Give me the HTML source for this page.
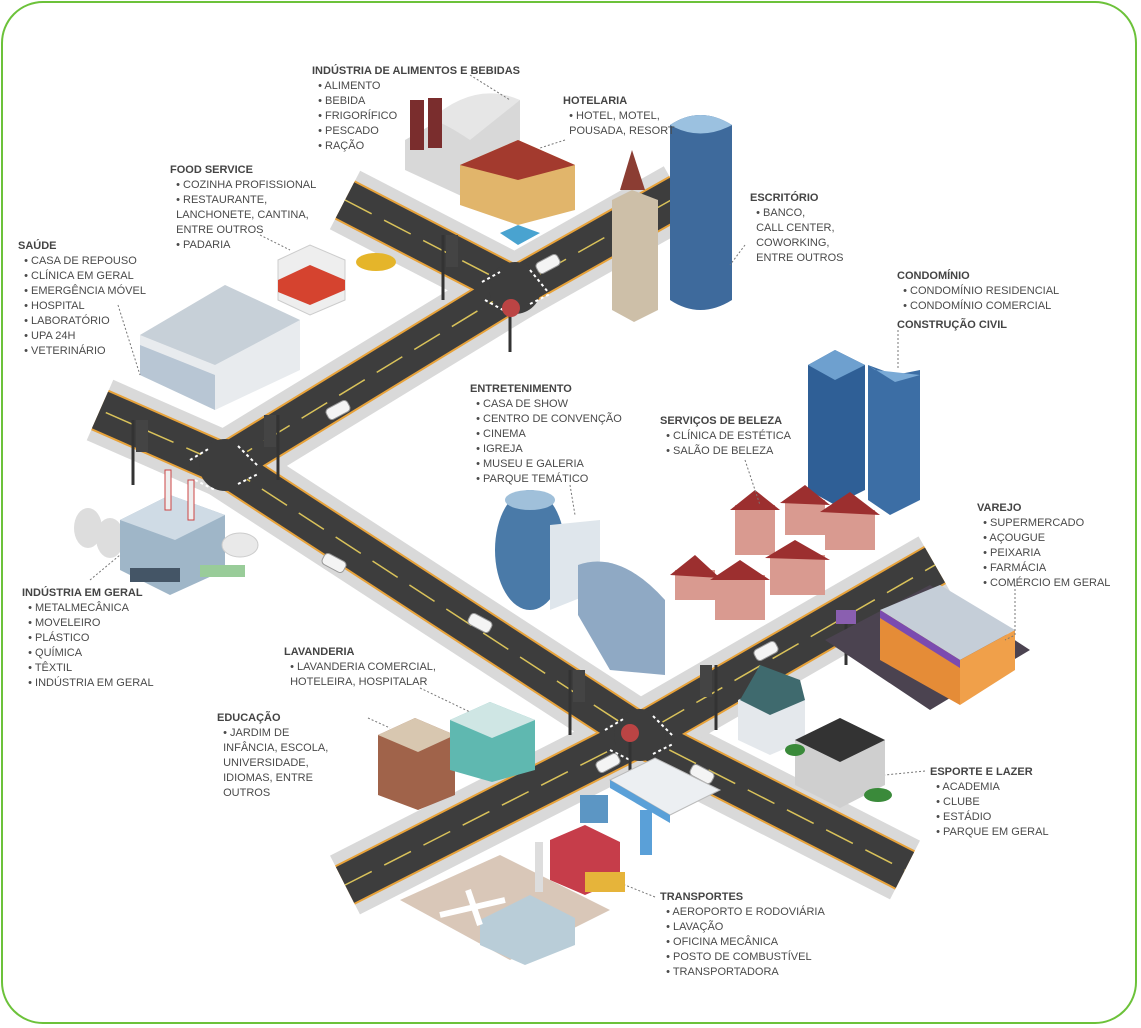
<!DOCTYPE html>
<html><head><meta charset="utf-8"><style>
body{margin:0;width:1141px;height:1028px;background:#fff;overflow:hidden;position:relative;font-family:"Liberation Sans",sans-serif}
.frame{position:absolute;left:1px;top:1px;width:1136px;height:1023px;border:2px solid #6cc23a;border-radius:42px;box-sizing:border-box}
svg{position:absolute;left:0;top:0}
.l{position:absolute;font-size:11px;line-height:15px;color:#4a4a4a;white-space:nowrap;letter-spacing:0}
.l b{color:#444;font-weight:bold}
</style></head><body>
<div class="frame"></div>
<svg width="1141" height="1028" viewBox="0 0 1141 1028">
<g fill="none" stroke-linecap="butt">
 <g stroke="#d9d9d9" stroke-width="66">
  <polyline points="345,200 515,288 680,195"/>
  <polyline points="515,288 225,465 100,410"/>
  <polyline points="225,465 640,735 905,870"/>
  <polyline points="345,885 640,735 935,565"/>
 </g>
 <g stroke="#e7a23a" stroke-width="44">
  <polyline points="345,200 515,288 680,195"/>
  <polyline points="515,288 225,465 100,410"/>
  <polyline points="225,465 640,735 905,870"/>
  <polyline points="345,885 640,735 935,565"/>
 </g>
 <g stroke="#3d3d3d" stroke-width="40">
  <polyline points="345,200 515,288 680,195"/>
  <polyline points="515,288 225,465 100,410"/>
  <polyline points="225,465 640,735 905,870"/>
  <polyline points="345,885 640,735 935,565"/>
 </g>
 <g stroke="#d9c25a" stroke-width="1.5" stroke-dasharray="30 14">
  <polyline points="345,200 515,288 680,195"/>
  <polyline points="515,288 225,465 100,410"/>
  <polyline points="225,465 640,735 905,870"/>
  <polyline points="345,885 640,735 935,565"/>
 </g>
</g>
<g fill="#3d3d3d"><circle cx="515" cy="288" r="26"/><circle cx="225" cy="465" r="26"/><circle cx="640" cy="735" r="26"/></g>
<g stroke="#fff" stroke-width="2" stroke-dasharray="3 3">
 <line x1="482" y1="282" x2="500" y2="272"/><line x1="530" y1="270" x2="548" y2="292"/><line x1="485" y1="300" x2="503" y2="310"/><line x1="530" y1="304" x2="550" y2="294"/>
 <line x1="190" y1="460" x2="210" y2="448"/><line x1="238" y1="446" x2="258" y2="466"/><line x1="195" y1="480" x2="215" y2="490"/><line x1="238" y1="484" x2="258" y2="474"/>
 <line x1="605" y1="730" x2="625" y2="718"/><line x1="653" y1="716" x2="673" y2="736"/><line x1="610" y1="750" x2="630" y2="760"/><line x1="653" y1="754" x2="673" y2="744"/>
</g>
<g stroke="#333" stroke-width="3">
 <line x1="443" y1="235" x2="443" y2="300"/><line x1="133" y1="420" x2="133" y2="485"/><line x1="278" y1="415" x2="278" y2="480"/><line x1="570" y1="670" x2="570" y2="735"/><line x1="716" y1="665" x2="716" y2="730"/><line x1="510" y1="300" x2="510" y2="352"/><line x1="630" y1="735" x2="630" y2="775"/><line x1="846" y1="615" x2="846" y2="665"/>
</g>
<g fill="#444"><rect x="446" y="235" width="12" height="32"/><rect x="136" y="420" width="12" height="32"/><rect x="264" y="415" width="12" height="32"/><rect x="573" y="670" width="12" height="32"/><rect x="700" y="665" width="12" height="32"/></g>
<g fill="#b44"><circle cx="511" cy="308" r="9"/><circle cx="630" cy="733" r="9"/></g>
<rect x="836" y="610" width="20" height="14" fill="#8a5fb0"/>
<g fill="#f4f4f4" stroke="#999" stroke-width="1"><rect x="536" y="258" width="24" height="12" rx="4" transform="rotate(-28 548 264)"/><rect x="326" y="404" width="24" height="12" rx="4" transform="rotate(-28 338 410)"/><rect x="322" y="557" width="24" height="12" rx="4" transform="rotate(28 334 563)"/><rect x="468" y="617" width="24" height="12" rx="4" transform="rotate(28 480 623)"/><rect x="596" y="757" width="24" height="12" rx="4" transform="rotate(-28 608 763)"/><rect x="690" y="768" width="24" height="12" rx="4" transform="rotate(28 702 774)"/><rect x="754" y="645" width="24" height="12" rx="4" transform="rotate(-28 766 651)"/></g>

<polygon points="405,140 440,120 520,100 520,170 470,200 405,170" fill="#d8d8d8"/>
<path d="M430,120 Q475,80 520,100 L470,140 Q440,120 430,120Z" fill="#e6e6e6"/>
<rect x="410" y="100" width="14" height="50" fill="#7a2d2d"/><rect x="428" y="98" width="14" height="50" fill="#7a2d2d"/>
<polygon points="460,165 518,140 575,165 575,210 518,225 460,205" fill="#e1b56b"/>
<polygon points="460,165 518,140 575,165 518,180" fill="#a33a2e"/>
<polygon points="500,233 518,225 540,233 518,245" fill="#49a3d0"/>
<polygon points="612,200 632,190 658,200 658,310 634,322 612,310" fill="#cdbfa8"/>
<polygon points="620,190 632,150 645,190" fill="#8b3d33"/>
<path d="M670,125 Q700,105 732,125 L732,300 Q700,320 670,300Z" fill="#3e6a9c"/>
<path d="M670,125 Q700,105 732,125 Q700,142 670,125Z" fill="#9bc1e0"/>
<polygon points="278,260 310,245 345,260 345,300 310,315 278,300" fill="#eee" stroke="#ccc"/>
<polygon points="278,280 310,265 345,280 345,290 310,305 278,292" fill="#d5432f"/>
<ellipse cx="376" cy="262" rx="20" ry="9" fill="#e5b52a"/>
<polygon points="140,335 225,285 300,320 300,370 215,410 140,375" fill="#e8ebee"/>
<polygon points="140,335 225,285 300,320 215,365" fill="#c7d0d8"/>
<polygon points="140,345 215,375 215,410 140,375" fill="#b8c6d4"/>
<ellipse cx="88" cy="528" rx="14" ry="20" fill="#ddd"/><ellipse cx="110" cy="538" rx="14" ry="20" fill="#ddd"/>
<polygon points="120,520 170,495 225,515 225,570 170,595 120,570" fill="#9fb6c8"/>
<polygon points="120,520 170,495 225,515 175,540" fill="#cfdbe5"/>
<rect x="165" y="470" width="6" height="40" fill="#eee" stroke="#c44"/><rect x="188" y="480" width="6" height="40" fill="#eee" stroke="#c44"/>
<ellipse cx="240" cy="545" rx="18" ry="12" fill="#e9e9e9" stroke="#ccc"/>
<rect x="130" y="568" width="50" height="14" fill="#445566"/><rect x="200" y="565" width="45" height="12" fill="#9c9"/>
<polygon points="808,365 835,350 865,365 865,490 835,505 808,490" fill="#2f5f96"/>
<polygon points="808,365 835,350 865,365 835,380" fill="#6ea0cf"/>
<polygon points="868,365 895,375 920,370 920,500 890,515 868,500" fill="#3c6ea5"/>
<polygon points="868,365 875,370 920,375 895,382" fill="#7aaad6"/>
<g fill="#d99a90"><rect x="735" y="505" width="40" height="50"/><rect x="785" y="500" width="40" height="35"/><rect x="825" y="510" width="50" height="40"/><rect x="675" y="570" width="40" height="30"/><rect x="715" y="575" width="50" height="45"/><rect x="770" y="555" width="55" height="40"/></g>
<g fill="#9c2f2f"><polygon points="730,510 755,490 780,510"/><polygon points="780,503 805,485 830,505"/><polygon points="820,512 850,492 880,515"/><polygon points="670,575 695,555 720,578"/><polygon points="710,580 740,560 770,580"/><polygon points="765,558 795,540 830,560"/></g>
<ellipse cx="530" cy="550" rx="35" ry="60" fill="#4a7aa8"/>
<ellipse cx="530" cy="500" rx="25" ry="10" fill="#a0c0da"/>
<polygon points="550,525 600,520 600,590 550,610" fill="#dfe6ec"/>
<path d="M578,565 Q620,550 665,600 L665,675 L610,670 L578,615Z" fill="#8fa9c4"/>
<polygon points="825,640 930,585 1030,650 930,710" fill="#4b4350"/>
<polygon points="880,610 940,585 1015,630 960,660" fill="#c5ced8"/>
<polygon points="880,610 960,660 960,705 880,660" fill="#e58c37"/>
<polygon points="960,660 1015,630 1015,670 960,705" fill="#f0a04a"/>
<polygon points="880,610 960,660 960,668 880,618" fill="#7b4bb0"/>
<polygon points="738,700 770,685 805,700 805,740 770,755 738,740" fill="#e4e8ec"/>
<polygon points="740,700 760,665 800,680 805,700 770,715" fill="#3f6a6e"/>
<polygon points="795,740 840,718 885,740 885,785 840,808 795,785" fill="#cfcfcf"/>
<polygon points="795,740 840,718 885,740 840,762" fill="#333"/>
<ellipse cx="878" cy="795" rx="14" ry="7" fill="#3a8a3a"/><ellipse cx="795" cy="750" rx="10" ry="6" fill="#3a8a3a"/>
<polygon points="378,735 415,718 455,735 455,795 418,810 378,795" fill="#a0634a"/>
<polygon points="378,735 415,718 455,735 418,752" fill="#d8c7b0"/>
<polygon points="450,720 490,702 535,720 535,770 492,782 450,770" fill="#5fb8b0"/>
<polygon points="450,720 490,702 535,720 492,738" fill="#cfe6e4"/>
<polygon points="610,780 655,758 720,790 670,815" fill="#eceff2" stroke="#bbb"/>
<polygon points="610,780 670,815 670,823 610,788" fill="#5aa0d8"/>
<rect x="640" y="810" width="12" height="45" fill="#5aa0d8"/><rect x="580" y="795" width="28" height="28" fill="#5c96c4"/>
<polygon points="550,840 585,825 620,842 620,880 585,895 550,880" fill="#c63d4a"/>
<rect x="585" y="872" width="40" height="20" fill="#e6b43a"/>
<polygon points="400,900 500,855 610,910 510,960" fill="#d9c7b8"/>
<polygon points="480,920 530,895 575,918 575,945 525,965 480,945" fill="#b9cdd8"/>
<path d="M440,915 L505,900 M468,890 L480,925" stroke="#fff" stroke-width="6"/>
<rect x="535" y="842" width="8" height="50" fill="#ddd"/>
<g stroke="#777" stroke-width="1" stroke-dasharray="2 2" fill="none">
 <path d="M470,75 L510,100"/><path d="M565,140 L540,148"/><path d="M260,235 L290,250"/><path d="M118,305 L140,375"/><path d="M745,245 L730,265"/><path d="M898,330 L898,370"/><path d="M570,485 L575,515"/><path d="M745,460 L760,505"/><path d="M1015,585 L1015,635 L1005,640"/><path d="M90,580 L120,555"/><path d="M420,688 L470,712"/><path d="M368,718 L390,728"/><path d="M925,771 L885,775"/><path d="M655,897 L625,885"/>
</g>
</svg>

<div class="l" style="left:312px;top:64px"><b>INDÚSTRIA DE ALIMENTOS E BEBIDAS</b><br>&nbsp;&nbsp;• ALIMENTO<br>&nbsp;&nbsp;• BEBIDA<br>&nbsp;&nbsp;• FRIGORÍFICO<br>&nbsp;&nbsp;• PESCADO<br>&nbsp;&nbsp;• RAÇÃO</div>
<div class="l" style="left:563px;top:94px"><b>HOTELARIA</b><br>&nbsp;&nbsp;• HOTEL, MOTEL,<br>&nbsp;&nbsp;POUSADA, RESORT</div>
<div class="l" style="left:170px;top:163px"><b>FOOD SERVICE</b><br>&nbsp;&nbsp;• COZINHA PROFISSIONAL<br>&nbsp;&nbsp;• RESTAURANTE,<br>&nbsp;&nbsp;LANCHONETE, CANTINA,<br>&nbsp;&nbsp;ENTRE OUTROS<br>&nbsp;&nbsp;• PADARIA</div>
<div class="l" style="left:18px;top:239px"><b>SAÚDE</b><br>&nbsp;&nbsp;• CASA DE REPOUSO<br>&nbsp;&nbsp;• CLÍNICA EM GERAL<br>&nbsp;&nbsp;• EMERGÊNCIA MÓVEL<br>&nbsp;&nbsp;• HOSPITAL<br>&nbsp;&nbsp;• LABORATÓRIO<br>&nbsp;&nbsp;• UPA 24H<br>&nbsp;&nbsp;• VETERINÁRIO</div>
<div class="l" style="left:750px;top:191px"><b>ESCRITÓRIO</b><br>&nbsp;&nbsp;• BANCO,<br>&nbsp;&nbsp;CALL CENTER,<br>&nbsp;&nbsp;COWORKING,<br>&nbsp;&nbsp;ENTRE OUTROS</div>
<div class="l" style="left:897px;top:269px"><b>CONDOMÍNIO</b><br>&nbsp;&nbsp;• CONDOMÍNIO RESIDENCIAL<br>&nbsp;&nbsp;• CONDOMÍNIO COMERCIAL</div>
<div class="l" style="left:897px;top:318px"><b>CONSTRUÇÃO CIVIL</b></div>
<div class="l" style="left:470px;top:382px"><b>ENTRETENIMENTO</b><br>&nbsp;&nbsp;• CASA DE SHOW<br>&nbsp;&nbsp;• CENTRO DE CONVENÇÃO<br>&nbsp;&nbsp;• CINEMA<br>&nbsp;&nbsp;• IGREJA<br>&nbsp;&nbsp;• MUSEU E GALERIA<br>&nbsp;&nbsp;• PARQUE TEMÁTICO</div>
<div class="l" style="left:660px;top:414px"><b>SERVIÇOS DE BELEZA</b><br>&nbsp;&nbsp;• CLÍNICA DE ESTÉTICA<br>&nbsp;&nbsp;• SALÃO DE BELEZA</div>
<div class="l" style="left:977px;top:501px"><b>VAREJO</b><br>&nbsp;&nbsp;• SUPERMERCADO<br>&nbsp;&nbsp;• AÇOUGUE<br>&nbsp;&nbsp;• PEIXARIA<br>&nbsp;&nbsp;• FARMÁCIA<br>&nbsp;&nbsp;• COMÉRCIO EM GERAL</div>
<div class="l" style="left:22px;top:586px"><b>INDÚSTRIA EM GERAL</b><br>&nbsp;&nbsp;• METALMECÂNICA<br>&nbsp;&nbsp;• MOVELEIRO<br>&nbsp;&nbsp;• PLÁSTICO<br>&nbsp;&nbsp;• QUÍMICA<br>&nbsp;&nbsp;• TÊXTIL<br>&nbsp;&nbsp;• INDÚSTRIA EM GERAL</div>
<div class="l" style="left:284px;top:645px"><b>LAVANDERIA</b><br>&nbsp;&nbsp;• LAVANDERIA COMERCIAL,<br>&nbsp;&nbsp;HOTELEIRA, HOSPITALAR</div>
<div class="l" style="left:217px;top:711px"><b>EDUCAÇÃO</b><br>&nbsp;&nbsp;• JARDIM DE<br>&nbsp;&nbsp;INFÂNCIA, ESCOLA,<br>&nbsp;&nbsp;UNIVERSIDADE,<br>&nbsp;&nbsp;IDIOMAS, ENTRE<br>&nbsp;&nbsp;OUTROS</div>
<div class="l" style="left:930px;top:765px"><b>ESPORTE E LAZER</b><br>&nbsp;&nbsp;• ACADEMIA<br>&nbsp;&nbsp;• CLUBE<br>&nbsp;&nbsp;• ESTÁDIO<br>&nbsp;&nbsp;• PARQUE EM GERAL</div>
<div class="l" style="left:660px;top:890px"><b>TRANSPORTES</b><br>&nbsp;&nbsp;• AEROPORTO E RODOVIÁRIA<br>&nbsp;&nbsp;• LAVAÇÃO<br>&nbsp;&nbsp;• OFICINA MECÂNICA<br>&nbsp;&nbsp;• POSTO DE COMBUSTÍVEL<br>&nbsp;&nbsp;• TRANSPORTADORA</div>
</body></html>
